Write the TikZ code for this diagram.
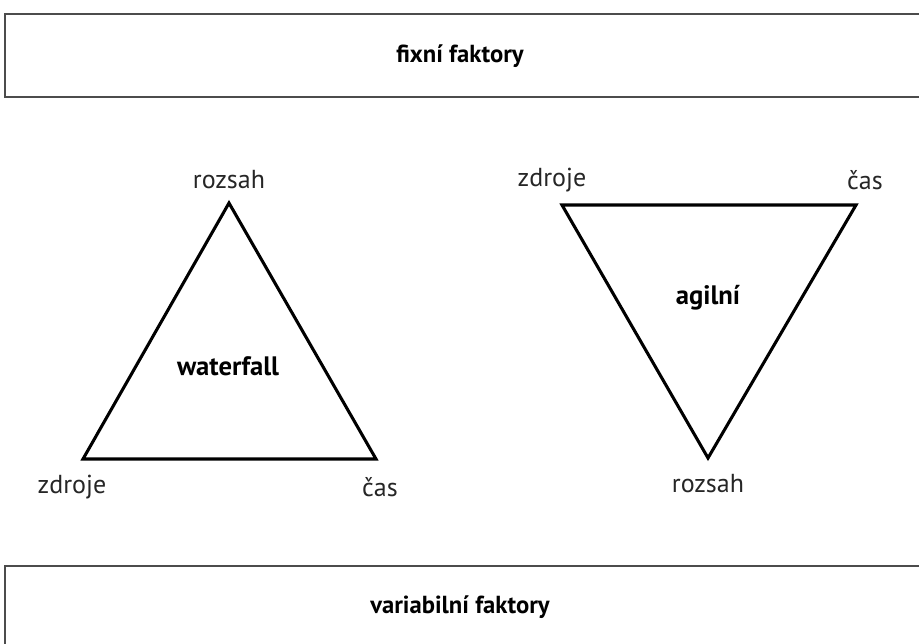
\documentclass[tikz,border=0pt]{standalone}
\usepackage{fontspec}
\setmainfont{PT Sans}
\begin{document}
\begin{tikzpicture}[x=0.75pt,y=-0.75pt,
  framebox/.style={draw=black!70,line width=1.6pt},
  tri/.style={draw=black,line width=2.3pt,line join=miter},
  lbl/.style={font=\fontsize{19.5}{22}\selectfont,text=black!85,inner sep=0pt},
  ttl/.style={font=\fontsize{18.5}{22}\selectfont\bfseries,inner sep=0pt}]
\useasboundingbox (0,0) rectangle (919,643);
\clip (0,0) rectangle (919,643);
% factor frames
\draw[framebox] (5,14) rectangle (960,97);
\node[ttl] (fix) at (460,56) {fixní faktory};
\draw[framebox] (5,566) rectangle (960,700);
\node[ttl] (var) at (460,607) {variabilní faktory};
% waterfall triangle
\coordinate (wt) at (229,203);
\coordinate (wl) at (83,459);
\coordinate (wr) at (376,459);
\draw[tri] (wt) -- (wl) -- (wr) -- cycle;
\node[ttl,font=\fontsize{20}{22}\selectfont\bfseries] (wf) at (228,366) {waterfall};
\node[lbl] (wtop) at (229,180) {rozsah};
\node[lbl] (wleft) at (72,487) {zdroje};
\node[lbl] (wright) at (380,487) {čas};
% agile triangle
\coordinate (al) at (562,205);
\coordinate (ar) at (856,205);
\coordinate (ab) at (708,458);
\draw[tri] (al) -- (ar) -- (ab) -- cycle;
\node[ttl,font=\fontsize{20}{22}\selectfont\bfseries] (ag) at (708,298) {agilní};
\node[lbl] (aleft) at (552,180) {zdroje};
\node[lbl] (aright) at (865,180) {čas};
\node[lbl] (abot) at (708,484) {rozsah};
\end{tikzpicture}
\end{document}
